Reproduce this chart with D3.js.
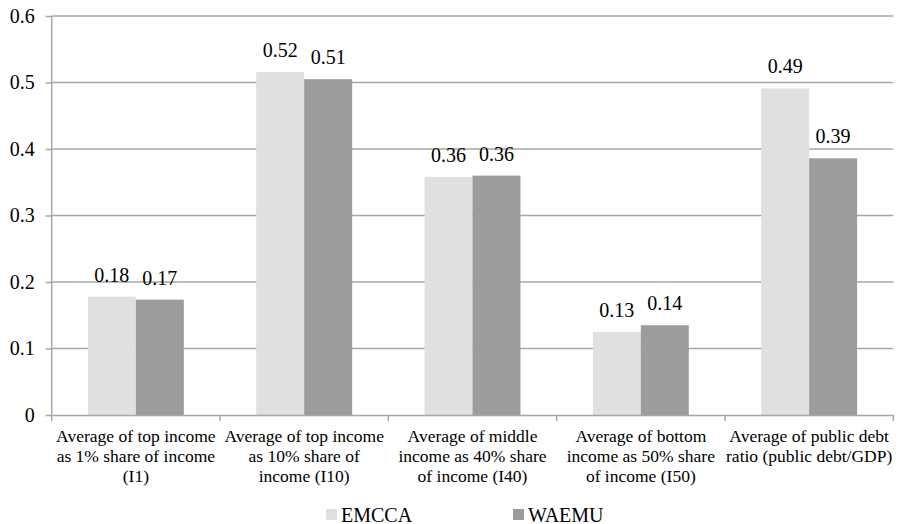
<!DOCTYPE html>
<html lang="en">
<head>
<meta charset="utf-8">
<script src="https://d3js.org/d3.v7.min.js"></script>
<style type="text/css">
body {
	margin: 0;
	background-color: white;
}
.grid line { stroke: #a6a6a6; stroke-width: 1.5; }
.axis path, .axis line { stroke: #a6a6a6; stroke-width: 1.5; }
</style>
</head>
<body>
<svg id="chart" width="899" height="524"></svg>
<script type="text/javascript">

// chart data
var categories = [
	["Average of top income", "as 1% share of income", "(I1)"],
	["Average of top income", "as 10% share of", "income (I10)"],
	["Average of middle", "income as 40% share", "of income (I40)"],
	["Average of bottom", "income as 50% share", "of income (I50)"],
	["Average of public debt", "ratio (public debt/GDP)"]
];
var series = ["EMCCA", "WAEMU"];
var emcca = [0.178, 0.516, 0.358, 0.125, 0.491];
var waemu = [0.1735, 0.505, 0.36, 0.135, 0.386];
var yTicks = [0, 0.1, 0.2, 0.3, 0.4, 0.5, 0.6];
var colors = ["#e0e0e0", "#9c9c9c"];

var font = "Liberation Serif";

var svg = d3.select("#chart");
var plotLeft = 51.7, plotRight = 893.3, plotTop = 16, plotBottom = 415;

var x0 = d3.scaleBand()
	.domain(d3.range(categories.length))
	.range([plotLeft, plotRight]);
var step = x0.bandwidth();
var x1 = d3.scaleBand()
	.domain(series)
	.range([step * 0.215, step * 0.785]);
var y = d3.scaleLinear()
	.domain([0, 0.6])
	.range([plotBottom, plotTop]);

// gridlines
svg.append("g")
	.attr("class", "grid")
	.selectAll("line")
	.data(yTicks.slice(1))
	.join("line")
	.attr("x1", plotLeft)
	.attr("x2", plotRight)
	.attr("y1", function(d) { return y(d); })
	.attr("y2", function(d) { return y(d); });

// bars
var rows = categories.map(function(c, i) {
	return [{s: "EMCCA", v: emcca[i]}, {s: "WAEMU", v: waemu[i]}];
});

var groups = svg.append("g")
	.selectAll("g")
	.data(rows)
	.join("g")
	.attr("transform", function(d, i) { return "translate(" + x0(i) + ",0)"; });

groups.selectAll("rect")
	.data(function(d) { return d; })
	.join("rect")
	.attr("x", function(d) { return x1(d.s); })
	.attr("width", x1.bandwidth())
	.attr("y", function(d) { return y(d.v); })
	.attr("height", function(d) { return y(0) - y(d.v); })
	.style("fill", function(d, i) { return colors[i]; });

groups.selectAll("text")
	.data(function(d) { return d; })
	.join("text")
	.attr("x", function(d) { return x1(d.s) + x1.bandwidth() / 2; })
	.attr("y", function(d) { return y(d.v) - 15; })
	.attr("text-anchor", "middle")
	.attr("font-family", font)
	.attr("font-size", 20)
	.text(function(d) { return d3.format(".2f")(d.v); });

// y axis
var yAxis = svg.append("g")
	.attr("class", "axis")
	.attr("transform", "translate(" + plotLeft + ",0)")
	.call(d3.axisLeft(y).tickValues(yTicks).tickSize(6).tickPadding(11)
		.tickFormat(function(d) { return d === 0 ? "0" : d3.format(".1f")(d); }));
yAxis.attr("font-family", font).attr("font-size", 20);
yAxis.select(".domain").attr("d", "M0," + y(0) + "V" + y(0.6));
yAxis.selectAll("text").attr("fill", "#000");

// x axis
var xAxis = svg.append("g")
	.attr("class", "axis")
	.attr("transform", "translate(0," + plotBottom + ")")
	.call(d3.axisBottom(x0).tickValues([]).tickSizeOuter(0));
xAxis.selectAll(".sep")
	.data(d3.range(categories.length + 1))
	.join("line")
	.attr("class", "sep")
	.attr("x1", function(d) { return plotLeft + d * step; })
	.attr("x2", function(d) { return plotLeft + d * step; })
	.attr("y1", 0)
	.attr("y2", 6);

var labels = svg.append("g")
	.selectAll("text")
	.data(categories)
	.join("text")
	.attr("text-anchor", "middle")
	.attr("font-family", font)
	.attr("font-size", 17.5)
	.attr("transform", function(d, i) { return "translate(" + (x0(i) + step / 2) + "," + (plotBottom + 27) + ")"; });
labels.selectAll("tspan")
	.data(function(d) { return d; })
	.join("tspan")
	.attr("x", 0)
	.attr("y", function(d, i) { return i * 20; })
	.text(function(d) { return d; });

// legend
var legendX = [326, 513];
var legend = svg.append("g")
	.selectAll("g")
	.data(series)
	.join("g")
	.attr("transform", function(d, i) { return "translate(" + legendX[i] + ",509)"; });
legend.append("rect")
	.attr("width", 11)
	.attr("height", 11)
	.style("fill", function(d, i) { return colors[i]; });
legend.append("text")
	.attr("x", 15)
	.attr("y", 12.5)
	.attr("font-family", font)
	.attr("font-size", 20)
	.text(function(d) { return d; });

</script>
</body>
</html>
